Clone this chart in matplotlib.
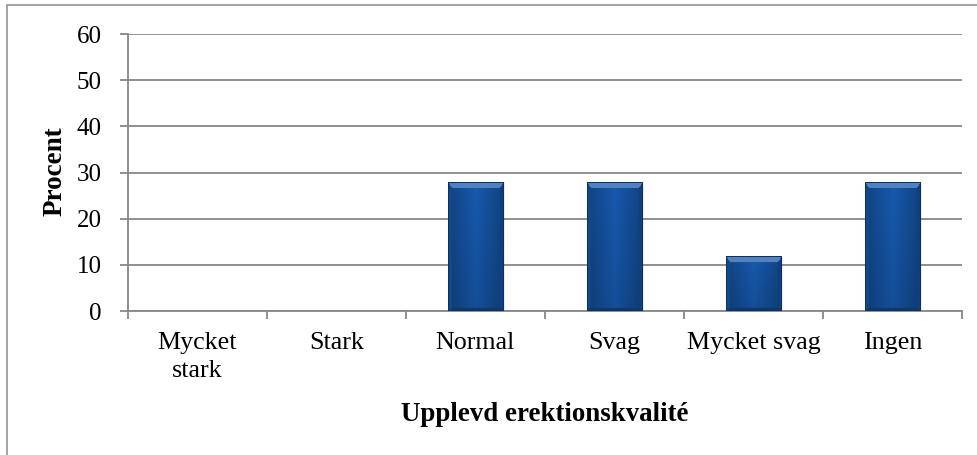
import numpy as np
import matplotlib
matplotlib.use("Agg")
import matplotlib.pyplot as plt
from matplotlib.patches import Rectangle

plt.rcParams['font.family'] = ['Liberation Serif', 'DejaVu Serif']

categories = ["Mycket\nstark", "Stark", "Normal", "Svag", "Mycket svag", "Ingen"]
percent = [0.0, 0.0, 27.9, 27.9, 11.7, 27.9]
y_ticks = [0, 10, 20, 30, 40, 50, 60]

BAR_W = 0.4
BASE = np.array([0.09, 0.35, 0.68])
GRID = '#878787'


def bevel_rgb(nx, ny):
    # pixel grid of a bevelled bar face, row 0 = top
    yy, xx = np.mgrid[0:ny, 0:nx] + 0.5
    widths = np.array([6.0, 3.0, 4.0, 4.0])  # top, bottom, left, right
    d = np.stack([yy / widths[0], (ny - yy) / widths[1],
                  xx / widths[2], (nx - xx) / widths[3]])
    which = d.argmin(0)
    dmin = d.min(0)
    u = xx / nx
    v = yy / ny
    shade = (1.0 - 0.25 * np.abs(u - 0.5) * 2) * (1.0 - 0.12 * v)
    shade = shade[..., None] * BASE
    light = BASE + (1 - BASE) * 0.25
    tones = [light, BASE * 0.62, BASE * 0.8, BASE * 0.72]
    for k in range(4):
        m = (dmin < 1) & (which == k)
        shade[m] = tones[k]
    # thin dark outline
    edge = np.stack([yy, ny - yy, xx, nx - xx]).min(0) < 1.0
    shade[edge] = BASE * 0.55
    return np.clip(shade, 0, 1)


fig = plt.figure(figsize=(9.77, 4.55), dpi=100)
fig.patch.set_facecolor('white')
fig.patches.append(Rectangle((7 / 977, -0.1), 1.2, 1 - 5 / 455 + 0.1,
                             transform=fig.transFigure, fill=False,
                             edgecolor='#8c8c8c', lw=1.1))

ax = fig.add_axes([128 / 977, 1 - 311 / 455, (962 - 128) / 977, (311 - 34) / 455])
x = np.arange(len(categories))
ax.set_xlim(-0.5, len(categories) - 0.5)
ax.set_ylim(0, 60)

ax.set_yticks(y_ticks)
ax.yaxis.grid(True, color=GRID, lw=1.3, zorder=0)
ax.set_axisbelow(True)
ax.tick_params(axis='y', length=6, width=1.3, color=GRID, pad=13, labelsize=18)

ax.set_xticks(np.arange(-0.5, len(categories)), labels=[''] * (len(categories) + 1))
ax.set_xticks(x, labels=categories, minor=True, linespacing=1.35)
ax.tick_params(axis='x', which='major', length=5.5, width=1.3, color=GRID, direction='out')
ax.tick_params(axis='x', which='minor', length=0, pad=15, labelsize=18.7)

for side in ['top', 'right']:
    ax.spines[side].set_visible(False)
for side in ['left', 'bottom']:
    ax.spines[side].set_color(GRID)
    ax.spines[side].set_linewidth(1.3)

bars = ax.bar(x, percent, width=BAR_W, color='none', zorder=2)
fig.canvas.draw()
for rect, v in zip(bars, percent):
    if v <= 0:
        continue
    x0, x1 = rect.get_x(), rect.get_x() + rect.get_width()
    p0 = ax.transData.transform((x0, 0))
    p1 = ax.transData.transform((x1, v))
    nx, ny = int(round(p1[0] - p0[0])), int(round(p1[1] - p0[1]))
    # soft shadow to the right
    ax.bar(rect.get_x() + rect.get_width() / 2 + 0.015, v, width=BAR_W,
           color='black', alpha=0.08, zorder=1.5)
    ax.imshow(bevel_rgb(nx, ny), extent=(x0, x1, 0, v), origin='upper',
              aspect='auto', interpolation='bilinear', zorder=3)
ax.set_xlim(-0.5, len(categories) - 0.5)
ax.set_ylim(0, 60)

fig.text(55 / 977, 1 - 171 / 455, 'Procent', rotation=90, ha='center', va='center',
         fontsize=19.5, fontweight='bold')
fig.text(545 / 977, 1 - 421 / 455, 'Upplevd erektionskvalité', ha='center', va='baseline',
         fontsize=19.4, fontweight='bold')

fig.savefig('out.png', dpi=100)
